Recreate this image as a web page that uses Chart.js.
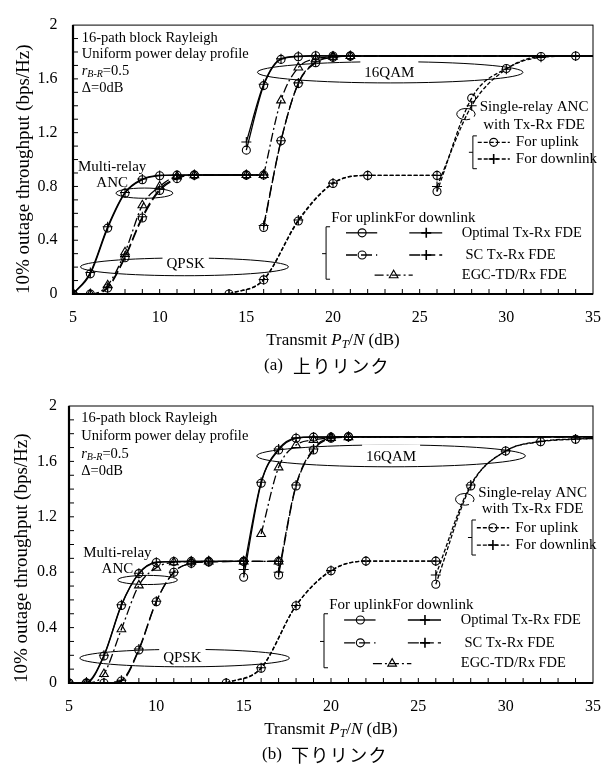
<!DOCTYPE html>
<html>
<head>
<meta charset="utf-8">
<script src="https://cdn.jsdelivr.net/npm/chart.js@4.4.1/dist/chart.umd.min.js"></script>
<style>
  body { margin: 0; background: #fff; width: 615px; height: 765px; overflow: hidden; }
  canvas { position: absolute; left: 0; }
</style>
</head>
<body>
<canvas id="upChart" width="615" height="380" style="top:0"></canvas>
<canvas id="downChart" width="615" height="385" style="top:380px"></canvas>
<script>
const SERIF = '"Liberation Serif", "Times New Roman", serif';
const CJK = '"Noto Sans CJK JP", "Noto Sans CJK SC", sans-serif';

// ---- (a) uplink: 10% outage throughput (bps/Hz) vs transmit PT/N (dB) ----
// multi-relay ANC, QPSK
const aOptQpskX = [5, 6, 7, 8, 9, 10, 11, 12, 15];
const aOptQpskUp = [0, 0.15, 0.49, 0.75, 0.85, 0.88, 0.884, 0.885, 0.885];
const aOptQpskDown = [0, 0.16, 0.5, 0.755, 0.855, 0.882, 0.884, 0.885, 0.885];
const aScQpskX = [5, 6, 7, 8, 9, 10, 11, 12, 15, 16];
const aScQpskUp = [0, 0, 0.045, 0.27, 0.565, 0.77, 0.858, 0.884, 0.885, 0.885];
const aScQpskDown = [0, 0, 0.05, 0.28, 0.575, 0.78, 0.862, 0.884, 0.885, 0.885];
const aEgcQpskX = [5, 6, 7, 8, 9, 10, 11, 12, 15, 16];
const aEgcQpsk = [0, 0, 0.065, 0.31, 0.66, 0.8, 0.875, 0.884, 0.885, 0.885];
// multi-relay ANC, 16QAM
const aOpt16X = [15, 16, 17, 18, 19, 20, 21, 35];
const aOpt16Up = [1.07, 1.55, 1.745, 1.765, 1.772, 1.77, 1.77, 1.77];
const aOpt16Down = [1.13, 1.56, 1.75, 1.768, 1.772, 1.77, 1.77, 1.77];
const aSc16X = [16, 17, 18, 19, 20, 21, 35];
const aSc16Up = [0.495, 1.14, 1.565, 1.72, 1.76, 1.77, 1.77];
const aSc16Down = [0.51, 1.14, 1.57, 1.725, 1.762, 1.77, 1.77];
const aEgc16X = [16, 17, 18, 19, 20, 21, 35];
const aEgc16 = [0.885, 1.44, 1.685, 1.75, 1.765, 1.77, 1.77];
// single-relay ANC with Tx-Rx FDE
const aSrQpskX = [14, 16, 18, 20, 22, 26];
const aSrQpskUp = [0, 0.105, 0.543, 0.822, 0.882, 0.882];
const aSrQpskDown = [0, 0.108, 0.55, 0.825, 0.882, 0.882];
const aSr16X = [26, 28, 30, 32, 34, 35];
const aSr16Up = [0.762, 1.457, 1.677, 1.766, 1.77, 1.77];
const aSr16Down = [0.8, 1.4, 1.672, 1.76, 1.77, 1.77];

// ---- (b) downlink ----
const bOptQpskX = [5, 6, 7, 8, 9, 10, 11, 12, 13, 15];
const bOptQpskUp = [0, 0, 0.195, 0.56, 0.79, 0.87, 0.877, 0.878, 0.878, 0.878];
const bOptQpskDown = [0, 0.005, 0.2, 0.565, 0.792, 0.872, 0.877, 0.878, 0.878, 0.878];
const bScQpskX = [5, 6, 7, 8, 9, 10, 11, 12, 13, 15, 17];
const bScQpskUp = [0, 0, 0, 0.014, 0.238, 0.587, 0.8, 0.864, 0.874, 0.878, 0.878];
const bScQpskDown = [0, 0, 0.002, 0.02, 0.245, 0.59, 0.8, 0.865, 0.875, 0.878, 0.878];
const bEgcQpskX = [5, 6, 7, 8, 9, 10, 11, 12, 13, 15, 17];
const bEgcQpsk = [0, 0, 0.065, 0.388, 0.705, 0.832, 0.872, 0.876, 0.878, 0.878, 0.878];
const bOpt16X = [15, 16, 17, 18, 19, 20, 21, 35];
const bOpt16Up = [0.763, 1.442, 1.682, 1.767, 1.775, 1.775, 1.778, 1.778];
const bOpt16Down = [0.82, 1.45, 1.69, 1.77, 1.776, 1.776, 1.778, 1.778];
const bSc16X = [17, 18, 19, 20, 21, 35];
const bSc16Up = [0.78, 1.422, 1.682, 1.767, 1.778, 1.778];
const bSc16Down = [0.8, 1.43, 1.69, 1.77, 1.778, 1.778];
const bEgc16X = [16, 17, 18, 19, 20, 21, 35];
const bEgc16 = [1.076, 1.557, 1.718, 1.755, 1.77, 1.775, 1.778];
const bSrQpskX = [14, 16, 18, 20, 22, 26];
const bSrQpskUp = [0, 0.106, 0.558, 0.81, 0.88, 0.88];
const bSrQpskDown = [0, 0.11, 0.56, 0.812, 0.88, 0.88];
const bSr16X = [26, 28, 30, 32, 34, 35];
const bSr16Up = [0.713, 1.422, 1.675, 1.742, 1.76, 1.765];
const bSr16Down = [0.78, 1.43, 1.675, 1.745, 1.762, 1.765];

const DASH = { opt: [], sc: [11, 4], egc: [9, 3, 2, 3], single: [4, 2] };
const RADIUS = { circle: 4, cross: 5, triangle: 5 };

function series(xs, ys, dash, marker) {
  return {
    data: xs.map((x, i) => ({ x: x, y: ys[i] })),
    borderColor: '#000',
    borderWidth: 1.3,
    borderDash: dash,
    pointStyle: marker,
    // the last point only carries the line to the right edge
    pointRadius: c => (c.raw && c.raw.x >= 35 ? 0 : RADIUS[marker]),
    pointBorderColor: '#000',
    pointBackgroundColor: 'rgba(0,0,0,0)',
    pointBorderWidth: 1.1,
    cubicInterpolationMode: 'monotone',
    fill: false
  };
}

const upSets = [
  series(aOptQpskX, aOptQpskUp, DASH.opt, 'circle'),
  series(aOptQpskX, aOptQpskDown, DASH.opt, 'cross'),
  series(aScQpskX, aScQpskUp, DASH.sc, 'circle'),
  series(aScQpskX, aScQpskDown, DASH.sc, 'cross'),
  series(aEgcQpskX, aEgcQpsk, DASH.egc, 'triangle'),
  series(aOpt16X, aOpt16Up, DASH.opt, 'circle'),
  series(aOpt16X, aOpt16Down, DASH.opt, 'cross'),
  series(aSc16X, aSc16Up, DASH.sc, 'circle'),
  series(aSc16X, aSc16Down, DASH.sc, 'cross'),
  series(aEgc16X, aEgc16, DASH.egc, 'triangle'),
  series(aSrQpskX, aSrQpskUp, DASH.single, 'circle'),
  series(aSrQpskX, aSrQpskDown, DASH.single, 'cross'),
  series(aSr16X, aSr16Up, DASH.single, 'circle'),
  series(aSr16X, aSr16Down, DASH.single, 'cross')
];
const downSets = [
  series(bOptQpskX, bOptQpskUp, DASH.opt, 'circle'),
  series(bOptQpskX, bOptQpskDown, DASH.opt, 'cross'),
  series(bScQpskX, bScQpskUp, DASH.sc, 'circle'),
  series(bScQpskX, bScQpskDown, DASH.sc, 'cross'),
  series(bEgcQpskX, bEgcQpsk, DASH.egc, 'triangle'),
  series(bOpt16X, bOpt16Up, DASH.opt, 'circle'),
  series(bOpt16X, bOpt16Down, DASH.opt, 'cross'),
  series(bSc16X, bSc16Up, DASH.sc, 'circle'),
  series(bSc16X, bSc16Down, DASH.sc, 'cross'),
  series(bEgc16X, bEgc16, DASH.egc, 'triangle'),
  series(bSrQpskX, bSrQpskUp, DASH.single, 'circle'),
  series(bSrQpskX, bSrQpskDown, DASH.single, 'cross'),
  series(bSr16X, bSr16Up, DASH.single, 'circle'),
  series(bSr16X, bSr16Down, DASH.single, 'cross')
];

// annotation placement, in data units of each panel
const notesA = {
  infoX: 5.5, infoY: [1.905, 1.78, 1.655, 1.53],
  multi: [7.26, 0.946, 0.822], anc: [9.12, 0.75, 1.64, 0.038],
  qpsk: [11.43, 0.202, 6.0, 0.066], qpskText: [11.5, 0.22],
  qam: [23.3, 1.649, 7.66, 0.079], qamText: [23.25, 1.642],
  loop: [27.67, 1.338, 0.53, 0.042], single: [31.6, 1.39, 1.26],
  srRows: [1.128, 1.004], srBracket: [28.07, 1.176, 0.932],
  yTitleX: 24, captionTag: '(a)', captionJa: '上りリンク'
};
const notesB = {
  infoX: 5.7, infoY: [1.91, 1.78, 1.653, 1.53],
  multi: [7.77, 0.94, 0.82], anc: [9.5, 0.744, 1.71, 0.033],
  qpsk: [11.62, 0.18, 6.0, 0.063], qpskText: [11.49, 0.183],
  qam: [23.44, 1.64, 7.69, 0.079], qamText: [23.44, 1.63],
  loop: [27.66, 1.326, 0.53, 0.042], single: [31.54, 1.374, 1.254],
  srRows: [1.121, 0.996], srBracket: [28.07, 1.177, 0.924],
  yTitleX: 22.5, captionTag: '(b)', captionJa: '下りリンク'
};

function marker(ctx, kind, x, y) {
  const r = RADIUS[kind];
  ctx.setLineDash([]);
  ctx.lineWidth = 1.1;
  ctx.beginPath();
  if (kind === 'circle') {
    ctx.arc(x, y, r, 0, Math.PI * 2);
  } else if (kind === 'cross') {
    ctx.lineWidth = 1.6;
    ctx.moveTo(x - r, y); ctx.lineTo(x + r, y);
    ctx.moveTo(x, y - r); ctx.lineTo(x, y + r);
  } else {
    ctx.moveTo(x, y - r);
    ctx.lineTo(x + 0.866 * r, y + 0.5 * r);
    ctx.lineTo(x - 0.866 * r, y + 0.5 * r);
    ctx.closePath();
  }
  ctx.stroke();
}

function sample(ctx, x1, x2, xm, y, dash, kind) {
  ctx.setLineDash(dash);
  ctx.lineWidth = 1.3;
  ctx.beginPath(); ctx.moveTo(x1, y); ctx.lineTo(x2, y); ctx.stroke();
  marker(ctx, kind, xm, y);
}

function runs(ctx, parts, x, y, align) {
  let w = 0;
  parts.forEach(p => { ctx.font = p[1]; w += ctx.measureText(p[0]).width; });
  let cx = align === 'center' ? x - w / 2 : x;
  ctx.textAlign = 'left';
  parts.forEach(p => {
    ctx.font = p[1];
    ctx.fillText(p[0], cx, y + (p[2] || 0));
    cx += ctx.measureText(p[0]).width;
  });
}

const paperPlugin = {
  id: 'paper',
  afterDraw(chart, _args, n) {
    const { ctx, chartArea: a } = chart;
    const X = v => chart.scales.x.getPixelForValue(v);
    const Y = v => chart.scales.y.getPixelForValue(v);
    const f = (size, style) => (style || '') + ' ' + size + 'px ' + SERIF;
    const ellipse = (e, from, to) => {
      ctx.beginPath();
      ctx.ellipse(X(e[0]), Y(e[1]), X(e[0] + e[2]) - X(e[0]), Y(e[1]) - Y(e[1] + e[3]), 0,
        from || 0, to || Math.PI * 2);
      ctx.stroke();
    };
    const boxed = (text, x, y) => {
      const w = ctx.measureText(text).width;
      ctx.fillStyle = '#fff';
      ctx.fillRect(x - w / 2 - 4, y - 13, w + 8, 21);
      ctx.fillStyle = '#000';
      ctx.fillText(text, x, y);
    };

    ctx.save();
    ctx.strokeStyle = '#000';
    ctx.fillStyle = '#000';
    ctx.textBaseline = 'middle';

    // frame and inward ticks
    ctx.lineWidth = 1;
    ctx.strokeRect(a.left, a.top, a.right - a.left, a.bottom - a.top);
    ctx.lineWidth = 2.2;
    ctx.beginPath();
    ctx.moveTo(a.left, a.top); ctx.lineTo(a.left, a.bottom); ctx.lineTo(a.right, a.bottom);
    ctx.stroke();
    ctx.lineWidth = 1;
    ctx.beginPath();
    for (let v = 6; v < 35; v++) { ctx.moveTo(X(v), a.bottom); ctx.lineTo(X(v), a.bottom - 5); }
    for (let k = 1; k < 20; k++) { ctx.moveTo(a.left, Y(k / 10)); ctx.lineTo(a.left + 5, Y(k / 10)); }
    ctx.stroke();

    // channel description
    ctx.textAlign = 'left';
    ctx.font = f(14.5);
    ctx.fillText('16-path block Rayleigh', X(n.infoX), Y(n.infoY[0]));
    ctx.fillText('Uniform power delay profile', X(n.infoX), Y(n.infoY[1]));
    runs(ctx, [['r', f(14.5, 'italic')], ['B-R', f(10, 'italic'), 3], ['=0.5', f(14.5)]],
      X(n.infoX), Y(n.infoY[2]), 'left');
    ctx.font = f(14.5);
    ctx.fillText('\u0394=0dB', X(n.infoX), Y(n.infoY[3]));

    // ellipses and their labels
    ctx.lineWidth = 1;
    ctx.setLineDash([]);
    ellipse(n.anc);
    ellipse(n.qpsk);
    ellipse(n.qam);
    ellipse(n.loop, 0.35 * Math.PI, 2.15 * Math.PI);
    ctx.textAlign = 'center';
    ctx.font = f(15);
    boxed('QPSK', X(n.qpskText[0]), Y(n.qpskText[1]));
    boxed('16QAM', X(n.qamText[0]), Y(n.qamText[1]));
    ctx.fillText('Multi-relay', X(n.multi[0]), Y(n.multi[1]));
    ctx.fillText('ANC', X(n.multi[0]), Y(n.multi[2]));
    ctx.fillText('Single-relay ANC', X(n.single[0]), Y(n.single[1]));
    ctx.fillText('with Tx-Rx FDE', X(n.single[0]), Y(n.single[2]));

    // single-relay legend
    const br = n.srBracket;
    ctx.lineWidth = 1;
    ctx.beginPath();
    ctx.moveTo(X(br[0]) + 4, Y(br[1])); ctx.lineTo(X(br[0]), Y(br[1]));
    ctx.lineTo(X(br[0]), Y(br[2])); ctx.lineTo(X(br[0]) + 4, Y(br[2]));
    ctx.moveTo(X(br[0]), Y((br[1] + br[2]) / 2)); ctx.lineTo(X(br[0]) - 4, Y((br[1] + br[2]) / 2));
    ctx.stroke();
    sample(ctx, X(28.35), X(30.2), X(29.27), Y(n.srRows[0]), DASH.single, 'circle');
    sample(ctx, X(28.35), X(30.2), X(29.27), Y(n.srRows[1]), DASH.single, 'cross');
    ctx.textAlign = 'left';
    ctx.font = f(15);
    ctx.fillText('For uplink', X(30.55), Y(n.srRows[0]));
    ctx.fillText('For downlink', X(30.55), Y(n.srRows[1]));

    // main legend
    ctx.fillText('For uplinkFor downlink', X(19.9), Y(0.565));
    ctx.lineWidth = 1;
    ctx.setLineDash([]);
    ctx.beginPath();
    ctx.moveTo(X(19.6) + 4, Y(0.5)); ctx.lineTo(X(19.6), Y(0.5));
    ctx.lineTo(X(19.6), Y(0.11)); ctx.lineTo(X(19.6) + 4, Y(0.11));
    ctx.moveTo(X(19.6), Y(0.3)); ctx.lineTo(X(19.6) - 4, Y(0.3));
    ctx.stroke();
    sample(ctx, X(20.75), X(22.55), X(21.68), Y(0.455), DASH.opt, 'circle');
    sample(ctx, X(24.4), X(26.3), X(25.38), Y(0.455), DASH.opt, 'cross');
    sample(ctx, X(20.75), X(22.55), X(21.68), Y(0.29), DASH.sc, 'circle');
    sample(ctx, X(24.4), X(26.3), X(25.38), Y(0.29), DASH.sc, 'cross');
    sample(ctx, X(22.4), X(24.6), X(23.5), Y(0.14), DASH.egc, 'triangle');
    ctx.font = f(14.5);
    ctx.fillText('Optimal Tx-Rx FDE', X(27.43), Y(0.455));
    ctx.fillText(' SC Tx-Rx FDE', X(27.43), Y(0.29));
    ctx.fillText('EGC-TD/Rx FDE', X(27.43), Y(0.14));

    // axis titles
    const midX = (a.left + a.right) / 2;
    runs(ctx, [['Transmit ', f(17)], ['P', f(17, 'italic')], ['T', f(12, 'italic'), 4],
      ['/', f(17)], ['N', f(17, 'italic')], [' (dB)', f(17)]], midX, a.bottom + 47, 'center');
    ctx.save();
    ctx.translate(n.yTitleX, a.bottom);
    ctx.rotate(-Math.PI / 2);
    ctx.font = f(19);
    ctx.textAlign = 'left';
    ctx.fillText('10% outage throughput (bps/Hz)', 0, 0);
    ctx.restore();

    // caption
    ctx.font = f(17);
    ctx.textAlign = 'left';
    const cx0 = midX - 69;
    ctx.fillText(n.captionTag, cx0, a.bottom + 72);
    ctx.font = '18px ' + CJK;
    ctx.textAlign = 'center';
    Array.from(n.captionJa).forEach((ch, i) => ctx.fillText(ch, cx0 + 38 + i * 19.4, a.bottom + 72));
    ctx.restore();
  }
};

function makeChart(id, sets, notes, geo) {
  return new Chart(document.getElementById(id), {
    type: 'line',
    data: { datasets: sets },
    options: {
      responsive: false,
      animation: false,
      events: [],
      layout: { padding: { top: geo.top, right: geo.right, left: 0, bottom: 0 } },
      plugins: { legend: { display: false }, tooltip: { enabled: false }, paper: notes },
      scales: {
        x: {
          type: 'linear', min: 5, max: 35,
          ticks: { stepSize: 5, padding: geo.xPad, color: '#000', font: { family: SERIF, size: 16 } },
          grid: { display: false, drawTicks: false },
          border: { display: false },
          afterFit: s => { s.height = geo.xH; }
        },
        y: {
          type: 'linear', min: 0, max: 2,
          ticks: {
            stepSize: 0.4, padding: geo.yPad, color: '#000', font: { family: SERIF, size: 16 },
            callback: v => String(Math.round(v * 10) / 10)
          },
          grid: { display: false, drawTicks: false },
          border: { display: false },
          afterFit: s => { s.width = geo.yW; }
        }
      }
    },
    plugins: [paperPlugin]
  });
}

makeChart('upChart', upSets, notesA, { top: 15, right: 10, xH: 86, yW: 73, xPad: 14, yPad: 15.5 });
makeChart('downChart', downSets, notesB, { top: 26, right: 13, xH: 82, yW: 69, xPad: 14, yPad: 12 });
</script>
</body>
</html>
